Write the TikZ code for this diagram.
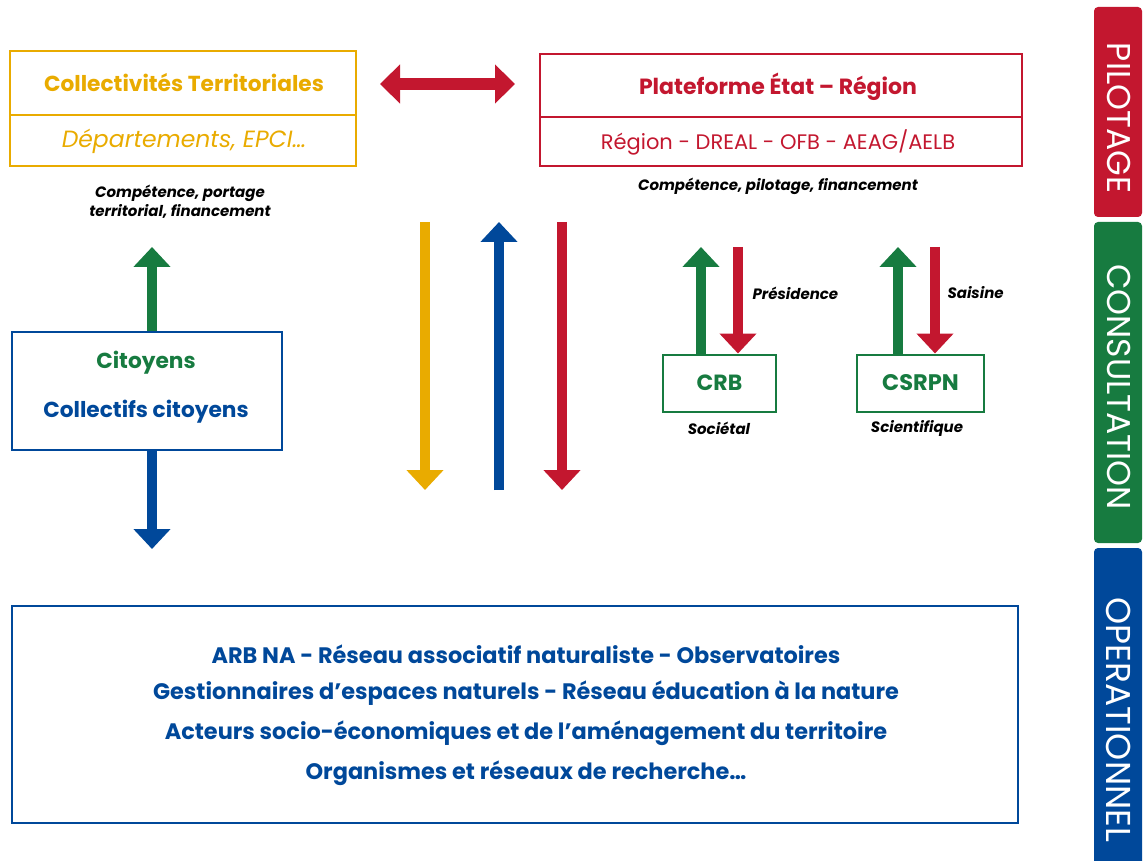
\documentclass[tikz,border=0pt]{standalone}
\usepackage{fontspec}
\setmainfont{Poppins}
\usetikzlibrary{arrows.meta}
\definecolor{cyel}{HTML}{E9AB00}
\definecolor{cred}{HTML}{C3172F}
\definecolor{cgrn}{HTML}{177B40}
\definecolor{cblu}{HTML}{00489A}
\begin{document}
\begin{tikzpicture}[x=1pt,y=-1pt,
  box/.style={draw, line width=2pt, inner sep=0pt},
  fat/.style={line width=10.5pt, -{Triangle[width=36pt,length=20pt]}},
  title/.style={font=\fontsize{21.7}{24}\selectfont\bfseries},
  sub/.style={font=\fontsize{21}{24}\selectfont},
  capt/.style={font=\fontsize{15}{19}\selectfont\bfseries\itshape, text=black, align=center},
  bot/.style={font=\fontsize{22.4}{24}\selectfont\bfseries, text=cblu},
  tab/.style={rounded corners=4pt},
  tabtxt/.style={font=\fontsize{33}{36}\selectfont, text=white, rotate=-90}]
\useasboundingbox (0,0) rectangle (1144,861);

% Collectivites
\node[box, draw=cyel, minimum width=346pt, minimum height=115pt] (ct) at (183,108.5) {};
\draw[cyel, line width=2pt] (ct.west |- 0,115) -- (ct.east |- 0,115);
\node[title, text=cyel] (ctt) at (184,83) {Collectivités Territoriales};
\node[text=cyel, font=\fontsize{23.5}{26}\selectfont\itshape] (cts) at (184,141) {Départements, EPCI…};
\node[capt] (ctc) at (180,202) {Compétence, portage\\territorial, financement};

% Plateforme
\node[box, draw=cred, minimum width=482pt, minimum height=112pt] (pe) at (781,110) {};
\draw[cred, line width=2pt] (pe.west |- 0,117) -- (pe.east |- 0,117);
\node[title, text=cred, font=\fontsize{22}{24}\selectfont\bfseries] (pet) at (778,87) {Plateforme État – Région};
\node[sub, text=cred] (pes) at (778,142) {Région - DREAL - OFB - AEAG/AELB};
\node[capt] (pec) at (778,186) {Compétence, pilotage, financement};

% double arrow
\coordinate (dl) at (380,84);
\coordinate (dr) at (515,84);
\draw[cred, line width=12pt, {Triangle[width=38pt,length=20pt]}-{Triangle[width=38pt,length=20pt]}] (dl) -- (dr);

% three vertical arrows
\coordinate (ya) at (425,222); \coordinate (yb) at (425,490);
\coordinate (ba) at (499,490); \coordinate (bb) at (499,222);
\coordinate (ra) at (562,222); \coordinate (rb) at (562,490);
\draw[fat, cyel] (ya) -- (yb);
\draw[fat, cblu] (ba) -- (bb);
\draw[fat, cred] (ra) -- (rb);

% CRB
\node[box, draw=cgrn, minimum width=113pt, minimum height=57pt, text=cgrn, font=\fontsize{22}{24}\selectfont\bfseries] (crb) at (719.5,383) {CRB};
\node[capt] at (719,428) {Sociétal};
\coordinate (crbg) at (701,247);
\coordinate (crbr) at (738,247);
\draw[fat, cgrn] (crb.north -| crbg) -- (crbg);
\draw[fat, cred] (crbr) -- (crb.north -| crbr);
\node[capt, anchor=west] at (749,293) {Présidence};

% CSRPN
\node[box, draw=cgrn, minimum width=127pt, minimum height=57pt, text=cgrn, font=\fontsize{22.5}{24}\selectfont\bfseries] (cs) at (920.5,383) {CSRPN};
\node[capt] at (917,428) {Scientifique};
\coordinate (csg) at (898,247);
\coordinate (csr) at (935,247);
\draw[fat, cgrn] (cs.north -| csg) -- (csg);
\draw[fat, cred] (csr) -- (cs.north -| csr);
\node[capt, anchor=west] at (944,293) {Saisine};

% Citoyens
\node[box, draw=cblu, minimum width=270pt, minimum height=118pt] (ci) at (147,391) {};
\node[title, text=cgrn] (cit) at (146,363) {Citoyens};
\node[title, text=cblu] (cic) at (146,412) {Collectifs citoyens};
\coordinate (cig) at (152,247);
\coordinate (cib) at (152,549);
\draw[fat, cgrn] (ci.north -| cig) -- (cig);
\draw[fat, cblu] (ci.south -| cib) -- (cib);

% bottom box
\node[box, draw=cblu, minimum width=1006pt, minimum height=217pt] (op) at (515,714.5) {};
\node[bot] at (526,654) {ARB NA - Réseau associatif naturaliste - Observatoires};
\node[bot] at (526,693) {Gestionnaires d'espaces naturels - Réseau éducation à la nature};
\node[bot] at (526,733) {Acteurs socio-économiques et de l'aménagement du territoire};
\node[bot] at (526,773) {Organismes et réseaux de recherche…};

% tabs
\fill[cred, tab] (1094,7) rectangle (1142,217);
\fill[cgrn, tab] (1094,222) rectangle (1142,543);
\fill[cblu, tab] (1094,548) rectangle (1142,875);
\node[tabtxt] (t1) at (1119,118) {PILOTAGE};
\node[tabtxt] (t2) at (1119,387) {CONSULTATION};
\node[tabtxt, font=\fontsize{34.5}{36}\selectfont] (t3) at (1119,720) {OPERATIONNEL};
\end{tikzpicture}
\end{document}
